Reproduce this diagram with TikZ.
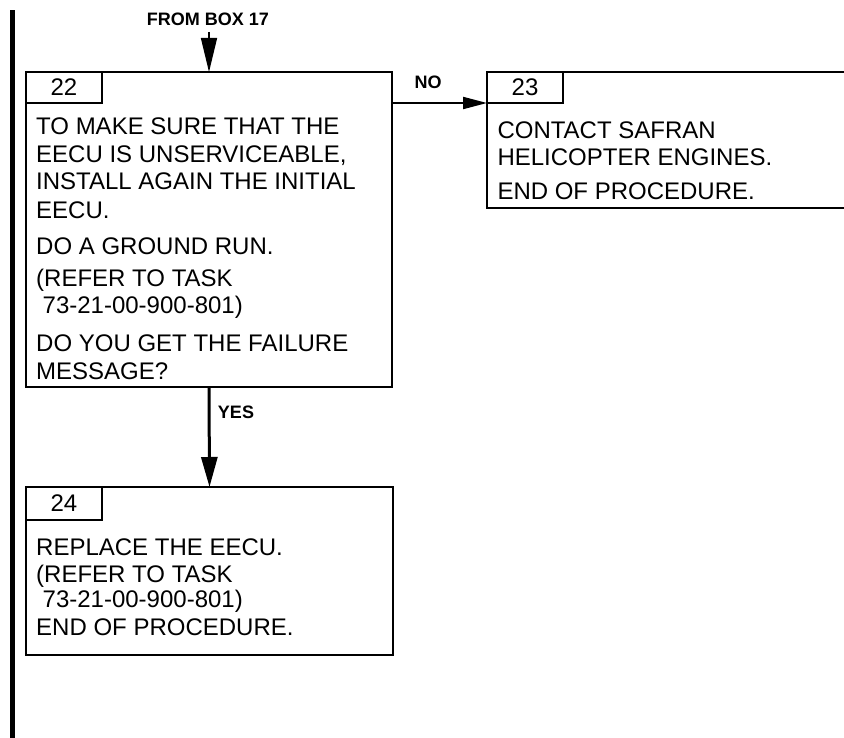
\documentclass[tikz,border=0pt]{standalone}
\usepackage{fontspec}
\setmainfont{Liberation Sans}
\usetikzlibrary{arrows.meta}
\begin{document}
\begin{tikzpicture}[x=1pt,y=-1pt,
  box/.style={draw,line width=2pt,inner sep=0pt,outer sep=0pt,anchor=north west},
  numbox/.style={box,minimum width=76pt,minimum height=31pt,font=\fontsize{24}{28}\selectfont},
  txt/.style={anchor=base west,inner sep=0pt,font=\fontsize{24}{28}\selectfont},
  lbl/.style={inner sep=0pt,font=\bfseries\fontsize{18}{20}\selectfont},
]
\useasboundingbox (0,0) rectangle (844,738);
% left change bar
\fill (10,10) rectangle (15,738);

% box 22
\node[box,minimum width=366pt,minimum height=315pt] (b22) at (26,72) {};
\node[numbox] (l22) at (26,72) {22};
\node[txt] (t22a) at (36,134.3) {TO MAKE SURE THAT THE};
\node[txt] (t22b) at (36,162.3) {EECU IS UNSERVICEABLE,};
\node[txt] (t22c) at (36,190) {INSTALL AGAIN THE INITIAL};
\node[txt] (t22d) at (36,218.3) {EECU.};
\node[txt] (t22e) at (36,255) {DO A GROUND RUN.};
\node[txt] (t22f) at (36,287) {(REFER TO TASK};
\node[txt] (t22g) at (42.5,314) {73-21-00-900-801)};
\node[txt] (t22h) at (36,351.7) {DO YOU GET THE FAILURE};
\node[txt] (t22i) at (36,379.3) {MESSAGE?};

% box 23
\node[box,minimum width=420pt,minimum height=136pt] (b23) at (487,72) {};
\node[numbox] (l23) at (487,72) {23};
\node[txt] (t23a) at (497.3,138.3) {CONTACT SAFRAN};
\node[txt] (t23b) at (497.3,166) {HELICOPTER ENGINES.};
\node[txt] (t23c) at (497.3,199.3) {END OF PROCEDURE.};

% box 24
\node[box,minimum width=367pt,minimum height=168pt] (b24) at (26,487) {};
\node[numbox,minimum height=33pt] (l24) at (26,487) {24};
\node[txt] (t24a) at (36,555.7) {REPLACE THE EECU.};
\node[txt] (t24b) at (36,582) {(REFER TO TASK};
\node[txt] (t24c) at (42.5,607.3) {73-21-00-900-801)};
\node[txt] (t24d) at (36,635.7) {END OF PROCEDURE.};

% entry arrow
\node[lbl] (from) at (208,19) {FROM BOX 17};
\coordinate (fs) at (209,32);
\draw[line width=1.5pt,-{Triangle[length=34pt,width=16pt]}] (fs) -- (b22.north);

% NO arrow
\draw[line width=2pt,-{Triangle[length=24pt,width=12pt]}] (l23.south west -| b22.east) -- (l23.south west);
\node[lbl] (no) at (428,82) {NO};

% YES arrow
\draw[line width=3pt,-{Triangle[length=30pt,width=16pt]}] (b22.south) -- (b24.north);
\node[lbl] (yes) at (236,412) {YES};
\end{tikzpicture}
\end{document}
